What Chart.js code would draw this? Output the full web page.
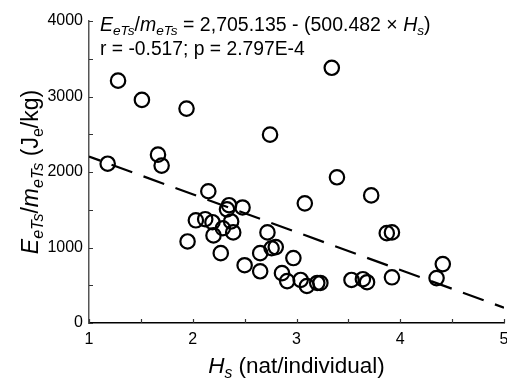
<!DOCTYPE html>
<html><head><meta charset="utf-8">
<script src="https://cdn.jsdelivr.net/npm/chart.js@4"></script>
<style>html,body{margin:0;padding:0;background:#fff}#w{width:507px;height:380px}</style>
</head><body><div id="w"><canvas id="c" width="507" height="380"></canvas></div>
<script>
// Data
const hsValues = [1.18,1.28,1.51,1.94,2.745,1.665,1.70,2.15,3.34,3.39,3.08,3.72,3.87,3.92,2.35,2.33,2.48,2.03,2.12,2.19,2.37,2.20,2.29,2.39,1.95,2.27,2.72,2.65,2.76,2.80,2.50,2.65,2.97,2.86,2.91,3.04,3.10,3.20,3.23,3.53,3.64,3.68,3.92,4.35,4.41];
const energyValues = [2110,3210,2955,2840,2495,2230,2085,1745,3380,1930,1585,1690,1190,1200,1560,1505,1530,1360,1375,1335,1345,1160,1255,1200,1080,925,1200,925,990,1005,765,685,860,660,555,570,490,530,530,570,580,540,605,595,780];
const xTickLabels = ['1','2','3','4','5'];
const yTickLabels = ['0','1000','2000','3000','4000'];
const regIntercept = 2705.135;
const regSlope = -500.482;
const regX = [1, 5];

const FONT = '"Liberation Sans", Arial, Helvetica, sans-serif';
const scatterData = hsValues.map((x, i) => ({x: x, y: energyValues[i]}));
const lineData = regX.map(x => ({x: x, y: regIntercept + regSlope * x}));

function runsWidth(ctx, runs, size) {
  let w = 0;
  for (const r of runs) {
    ctx.font = (r.it ? 'italic ' : '') + (r.sub ? size * 0.7 : size) + 'px ' + FONT;
    w += ctx.measureText(r.t).width;
  }
  return w;
}
function drawRuns(ctx, runs, x, y, size) {
  let cx = x;
  ctx.textBaseline = 'alphabetic';
  ctx.textAlign = 'left';
  for (const r of runs) {
    ctx.font = (r.it ? 'italic ' : '') + (r.sub ? size * 0.7 : size) + 'px ' + FONT;
    ctx.fillText(r.t, cx, y + (r.sub ? size * 0.22 : 0));
    cx += ctx.measureText(r.t).width;
  }
}

const eqRuns = [
  {t:'E', it:1}, {t:'eTs', it:1, sub:1}, {t:'/'}, {t:'m', it:1}, {t:'eTs', it:1, sub:1},
  {t:' = 2,705.135 - (500.482 \u00d7 '}, {t:'H', it:1}, {t:'s', it:1, sub:1}, {t:')'}
];
const statRuns = [{t:'r = -0.517; p = 2.797E-4'}];
const yTitleRuns = [
  {t:'E', it:1}, {t:'eTs', it:1, sub:1}, {t:'/'}, {t:'m', it:1}, {t:'eTs', it:1, sub:1},
  {t:' (J'}, {t:'e', sub:1}, {t:'/kg)'}
];
const xTitleRuns = [{t:'H', it:1}, {t:'s', it:1, sub:1}, {t:' (nat/individual)'}];

const decor = {
  id: 'decor',
  afterDraw(chart) {
    const ctx = chart.ctx;
    const xs = chart.scales.x, ys = chart.scales.y;
    const area = chart.chartArea;
    ctx.save();
    // inward ticks
    ctx.strokeStyle = '#333';
    ctx.lineWidth = 1.2;
    ctx.beginPath();
    for (const t of xs.ticks) {
      const px = Math.round(xs.getPixelForValue(t.value)) + 0.5;
      ctx.moveTo(px, area.bottom); ctx.lineTo(px, area.bottom - 4);
    }
    for (const t of ys.ticks) {
      const py = Math.round(ys.getPixelForValue(t.value)) + 0.5;
      ctx.moveTo(area.left, py); ctx.lineTo(area.left + 4, py);
    }
    ctx.stroke();
    // annotation
    ctx.fillStyle = '#000';
    drawRuns(ctx, eqRuns, 100, 31, 19.5);
    drawRuns(ctx, statRuns, 100, 55, 19.3);
    // x title
    const xs2 = 22.5;
    const xw = runsWidth(ctx, xTitleRuns, xs2);
    drawRuns(ctx, xTitleRuns, (area.left + area.right) / 2 - xw / 2, 373, xs2);
    // y title
    const ysz = 23;
    const yw = runsWidth(ctx, yTitleRuns, ysz);
    ctx.translate(38, (area.top + area.bottom) / 2);
    ctx.rotate(-Math.PI / 2);
    drawRuns(ctx, yTitleRuns, -yw / 2, 0, ysz);
    ctx.restore();
  }
};

new Chart(document.getElementById('c'), {
  type: 'scatter',
  data: {
    datasets: [
      {
        data: scatterData,
        pointRadius: 7.2,
        pointHoverRadius: 7.2,
        pointBorderWidth: 2.2,
        pointBorderColor: '#000',
        pointBackgroundColor: 'rgba(0,0,0,0)',
        showLine: false
      },
      {
        data: lineData,
        showLine: true,
        pointRadius: 0,
        borderColor: '#000',
        borderWidth: 2.2,
        borderDash: [22, 12],
        borderDashOffset: 10,
        fill: false
      }
    ]
  },
  options: {
    responsive: false,
    animation: false,
    events: [],
    layout: {autoPadding: false, padding: {top: 21, right: 3, left: 0, bottom: 0}},
    plugins: {legend: {display: false}, tooltip: {enabled: false}},
    scales: {
      x: {
        type: 'linear', min: 1, max: 5,
        grid: {display: false, drawTicks: false},
        border: {display: true, color: '#000', width: 1.5},
        ticks: {
          stepSize: 0.5, padding: 7, color: '#000', maxRotation: 0, autoSkip: false,
          font: {family: FONT, size: 16},
          callback: v => Number.isInteger(v) ? xTickLabels[v - 1] : ''
        },
        afterFit: s => { s.height = 57; s.paddingLeft = 0; s.paddingRight = 0; }
      },
      y: {
        type: 'linear', min: 0, max: 4000,
        grid: {display: false, drawTicks: false},
        border: {display: true, color: '#555', width: 1.5},
        ticks: {
          stepSize: 500, padding: 6, color: '#000', autoSkip: false,
          font: {family: FONT, size: 16},
          callback: v => (v % 1000 === 0) ? yTickLabels[v / 1000] : ''
        },
        afterFit: s => { s.width = 89; s.paddingTop = 0; s.paddingBottom = 0; }
      }
    }
  },
  plugins: [decor]
});
</script>
</body></html>
